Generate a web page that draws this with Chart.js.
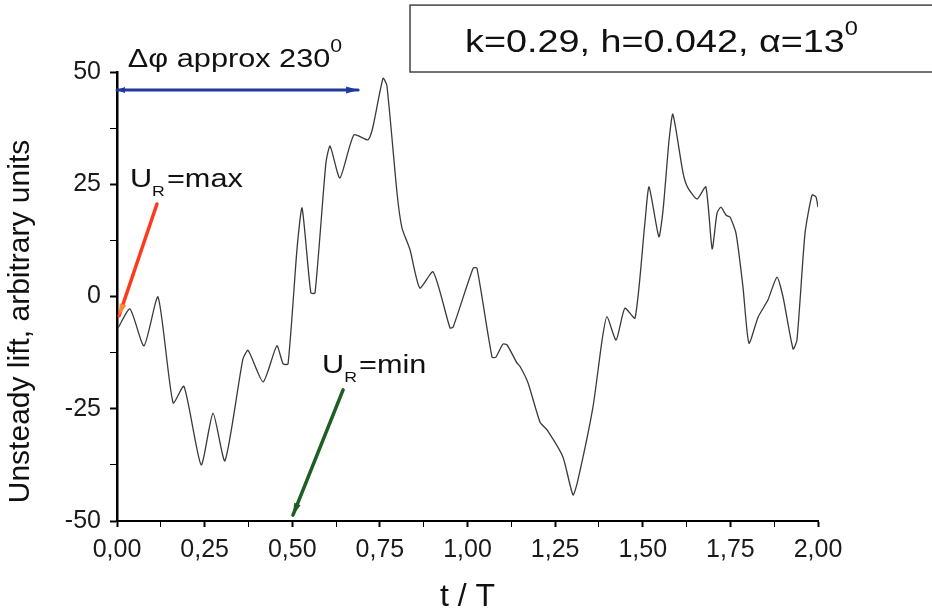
<!DOCTYPE html>
<html>
<head>
<meta charset="utf-8">
<script src="https://cdn.jsdelivr.net/npm/chart.js@4"></script>
<style>
  html, body { margin: 0; padding: 0; background: #fff; }
</style>
</head>
<body>
<canvas id="liftChart" width="932" height="613"></canvas>
<script>
// t / T values
const tValues = [
  0.003, 0.037, 0.077, 0.117, 0.160, 0.191, 0.240, 0.274, 0.308, 0.359,
  0.374, 0.417, 0.456, 0.474, 0.488, 0.514, 0.528, 0.553, 0.565, 0.596,
  0.608, 0.636, 0.676, 0.716, 0.730, 0.759, 0.770, 0.799, 0.813, 0.836,
  0.864, 0.902, 0.950, 0.959, 1.016, 1.027, 1.070, 1.081, 1.101, 1.113,
  1.141, 1.150, 1.173, 1.207, 1.227, 1.272, 1.301, 1.315, 1.358, 1.384,
  1.398, 1.424, 1.449, 1.478, 1.506, 1.518, 1.546, 1.558, 1.575, 1.586,
  1.615, 1.629, 1.655, 1.680, 1.698, 1.712, 1.723, 1.738, 1.749, 1.766,
  1.786, 1.803, 1.829, 1.857, 1.883, 1.900, 1.929, 1.940, 1.963, 1.983,
  1.994, 2.000
];
// unsteady lift, arbitrary units
const liftValues = [
  -7.0, -2.8, -11.0, -0.1, -23.7, -20.0, -37.5, -26.0, -36.6, -14.0,
  -12.0, -19.0, -11.0, -15.0, -15.0, 11.0, 19.7, 0.8, 0.8, 29.7,
  33.5, 26.4, 36.0, 34.9, 37.7, 48.6, 47.0, 23.0, 15.3, 10.4,
  1.9, 5.5, -7.0, -6.8, 6.3, 6.3, -13.5, -13.5, -10.6, -10.8,
  -14.8, -15.6, -19.3, -28.0, -29.7, -35.7, -44.2, -40.9, -24.6, -9.7,
  -4.5, -9.7, -2.6, -4.8, 16.3, 24.4, 13.3, 19.3, 34.8, 40.6,
  27.5, 24.2, 21.7, 24.4, 10.6, 18.6, 19.9, 18.1, 17.7, 14.1,
  2.1, -10.4, -4.6, -0.8, 4.3, 0.0, -11.7, -9.7, 14.1, 22.6,
  22.2, 19.9
];

// annotations, in data units [t, lift]
const phaseArrow = [[0.0, 46.0], [0.688, 46.0]];
const maxArrow = [[0.114, 20.6], [0.006, -4.3]];
const minArrow = [[0.645, -20.8], [0.502, -48.7]];
const phaseLabelAt = [0.031, 51.1];
const maxLabelAt = [0.037, 24.4];
const minLabelAt = [0.585, -17.0];
const boxCorner = [0.836, 64.9];
const boxLabelAt = [0.993, 54.5];

const FONT = "'Liberation Sans', Arial, sans-serif";
const SX = 1.18; // the original picture is a bit stretched sideways

Chart.defaults.font.family = FONT;
Chart.defaults.color = '#1a1a1a';

function isMajor(v, step) {
  const r = v / step;
  return Math.abs(r - Math.round(r)) < 1e-6;
}

// text with sub/superscripts, slightly stretched
function drawParts(ctx, parts, x, y) {
  let cx = x;
  parts.forEach(p => {
    ctx.font = p.size + 'px ' + FONT;
    ctx.save();
    ctx.translate(cx, y + (p.dy || 0));
    ctx.scale(SX, 1);
    ctx.fillText(p.t, 0, 0);
    ctx.restore();
    cx += ctx.measureText(p.t).width * SX + (p.gap || 0);
  });
}

function arrowHead(ctx, x1, y1, x2, y2, len, half, color) {
  const a = Math.atan2(y2 - y1, x2 - x1);
  ctx.fillStyle = color;
  ctx.beginPath();
  ctx.moveTo(x2, y2);
  ctx.lineTo(x2 - len * Math.cos(a) + half * Math.sin(a), y2 - len * Math.sin(a) - half * Math.cos(a));
  ctx.lineTo(x2 - len * Math.cos(a) - half * Math.sin(a), y2 - len * Math.sin(a) + half * Math.cos(a));
  ctx.closePath();
  ctx.fill();
}

function drawArrow(ctx, p1, p2, color, width, headColor, bothEnds) {
  ctx.strokeStyle = color;
  ctx.lineWidth = width;
  ctx.lineCap = 'round';
  ctx.beginPath();
  ctx.moveTo(p1[0], p1[1]);
  ctx.lineTo(p2[0], p2[1]);
  ctx.stroke();
  arrowHead(ctx, p1[0], p1[1], p2[0], p2[1], 12, 3.5, headColor || color);
  if (bothEnds) arrowHead(ctx, p2[0], p2[1], p1[0], p1[1], 8, 3, headColor || color);
}

const notesPlugin = {
  id: 'notes',
  afterDraw(chart) {
    const ctx = chart.ctx;
    const xs = chart.scales.x, ys = chart.scales.y;
    const px = p => [xs.getPixelForValue(p[0]), ys.getPixelForValue(p[1])];
    ctx.save();

    // parameter box
    const bc = px(boxCorner);
    const bottom = ys.getPixelForValue(50);
    ctx.strokeStyle = '#444';
    ctx.lineWidth = 1.5;
    ctx.strokeRect(bc[0], bc[1], 700, bottom - bc[1]);

    ctx.fillStyle = '#111';
    ctx.textBaseline = 'alphabetic';
    const bl = px(boxLabelAt);
    drawParts(ctx, [
      { t: 'k=0.29, h=0.042, α=13', size: 32 },
      { t: '0', size: 20, dy: -17 }
    ], bl[0], bl[1]);

    // phase shift arrow
    const pl = px(phaseLabelAt);
    ctx.fillStyle = '#111';
    drawParts(ctx, [
      { t: 'Δφ approx 230', size: 26 },
      { t: '0', size: 18, dy: -15 }
    ], pl[0], pl[1]);
    drawArrow(ctx, px(phaseArrow[0]), px(phaseArrow[1]), '#1d3a9c', 3, null, true);

    // U_R = max
    const ml = px(maxLabelAt);
    ctx.fillStyle = '#111';
    drawParts(ctx, [
      { t: 'U', size: 26 },
      { t: 'R', size: 15, dy: 9, gap: 2 },
      { t: '=max', size: 26 }
    ], ml[0], ml[1]);
    drawArrow(ctx, px(maxArrow[0]), px(maxArrow[1]), '#ff3a1c', 3.5, '#ff8a3a');

    // U_R = min
    const nl = px(minLabelAt);
    ctx.fillStyle = '#111';
    drawParts(ctx, [
      { t: 'U', size: 26 },
      { t: 'R', size: 15, dy: 9, gap: 2 },
      { t: '=min', size: 26 }
    ], nl[0], nl[1]);
    drawArrow(ctx, px(minArrow[0]), px(minArrow[1]), '#1e5e22', 3.5);

    ctx.restore();
  }
};

const points = tValues.map((t, i) => ({ x: t, y: liftValues[i] }));

new Chart(document.getElementById('liftChart'), {
  type: 'line',
  data: {
    datasets: [{
      data: points,
      borderColor: '#3a3a3a',
      borderWidth: 1.3,
      pointRadius: 0,
      tension: 0.2,
      fill: false
    }]
  },
  options: {
    responsive: false,
    animation: false,
    layout: { padding: { top: 72, right: 114, left: 0, bottom: 0 } },
    plugins: {
      legend: { display: false },
      tooltip: { enabled: false }
    },
    scales: {
      x: {
        type: 'linear',
        min: 0,
        max: 2,
        afterFit: s => { s.height = 92; },
        border: { display: true, color: '#000', width: 2 },
        grid: {
          drawOnChartArea: false,
          drawTicks: true,
          tickLength: 6,
          tickColor: '#000',
          tickWidth: c => isMajor(c.tick.value, 0.25) ? 2 : 1
        },
        ticks: {
          stepSize: 0.125,
          autoSkip: false,
          maxRotation: 0,
          minRotation: 0,
          padding: 8,
          font: { size: 25 },
          color: '#1a1a1a',
          callback: v => isMajor(v, 0.25) ? v.toFixed(2).replace('.', ',') : ''
        },
        title: {
          display: true,
          text: 't / T',
          font: { size: 32, lineHeight: 1 },
          padding: 0,
          color: '#111'
        }
      },
      y: {
        type: 'linear',
        min: -50,
        max: 50,
        afterFit: s => { s.width = 117; },
        border: { display: true, color: '#000', width: 2.5 },
        grid: {
          drawOnChartArea: false,
          drawTicks: true,
          tickLength: 7,
          tickColor: '#000',
          tickWidth: c => isMajor(c.tick.value, 25) ? 2 : 1
        },
        ticks: {
          stepSize: 12.5,
          autoSkip: false,
          padding: 9,
          font: { size: 25 },
          color: '#1a1a1a',
          callback: v => isMajor(v, 25) ? String(v) : ''
        },
        title: {
          display: true,
          text: 'Unsteady lift, arbitrary units      ',
          font: { size: 30, lineHeight: 1.2 },
          padding: { top: 3, bottom: 0 },
          color: '#111'
        }
      }
    }
  },
  plugins: [notesPlugin]
});
</script>
</body>
</html>
